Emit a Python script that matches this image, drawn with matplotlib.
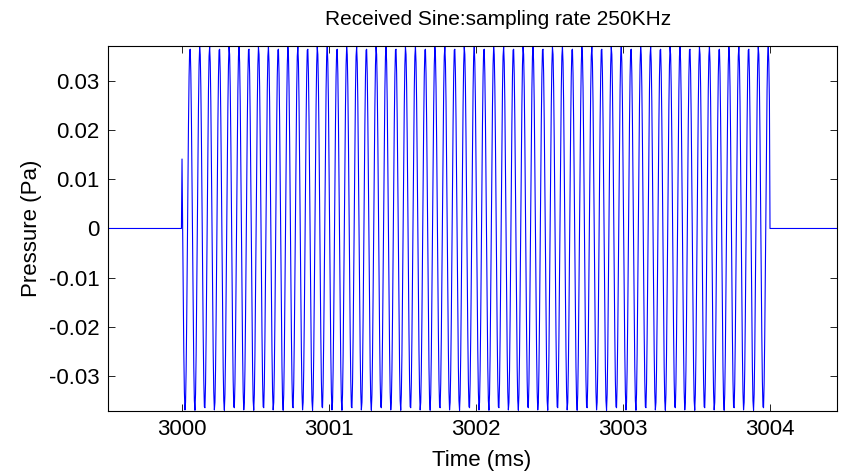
import numpy as np
import matplotlib
matplotlib.use("Agg")
import matplotlib.pyplot as plt
from matplotlib.ticker import FuncFormatter

# Signal parameters
fs_khz = 250.0          # sampling rate (samples per ms)
tone_khz = 15.0         # tone frequency (cycles per ms)
amplitude = 0.037       # Pa
phase = 2.75            # rad at burst start
burst_start = 3000.0    # ms
burst_end = 3004.0      # ms
record_start = 2999.5   # ms
record_end = 3004.5     # ms

x_ticks = [3000, 3001, 3002, 3003, 3004]
y_ticks = [-0.03, -0.02, -0.01, 0, 0.01, 0.02, 0.03]

# Sampled received signal
t = np.arange(round((record_end - record_start) * fs_khz) + 1) / fs_khz + record_start
on = (t >= burst_start - 1e-9) & (t < burst_end - 1e-9)
p = np.where(on, amplitude * np.sin(2 * np.pi * tone_khz * (t - burst_start) + phase), 0.0)

plt.rcParams['font.family'] = ['Liberation Sans', 'DejaVu Sans']
plt.rcParams['axes.unicode_minus'] = False

fig = plt.figure(figsize=(8.51, 4.76), dpi=100)
ax = fig.add_axes([0.127, 0.1366, 0.8566, 0.7668])
ax.plot(t, p, color=(0, 0, 1), linewidth=0.8)

ax.set_xlim(2999.497, 3004.456)
ax.set_ylim(-0.0371, 0.0371)
ax.set_xticks(x_ticks)
ax.set_yticks(y_ticks)
ax.yaxis.set_major_formatter(FuncFormatter(lambda v, pos: "0" if abs(v) < 1e-12 else f"{v:g}"))
ax.tick_params(direction='in', top=True, right=True, length=5, width=0.6, labelsize=16, pad=6)
for s in ax.spines.values():
    s.set_linewidth(0.8)

ax.set_title("Received Sine:sampling rate 250KHz", fontsize=15, pad=15, x=0.535)
ax.set_xlabel("Time (ms)", fontsize=16, labelpad=7, x=0.513)
ax.set_ylabel("Pressure (Pa)", fontsize=16, labelpad=5)

fig.savefig("out.png", dpi=100)
